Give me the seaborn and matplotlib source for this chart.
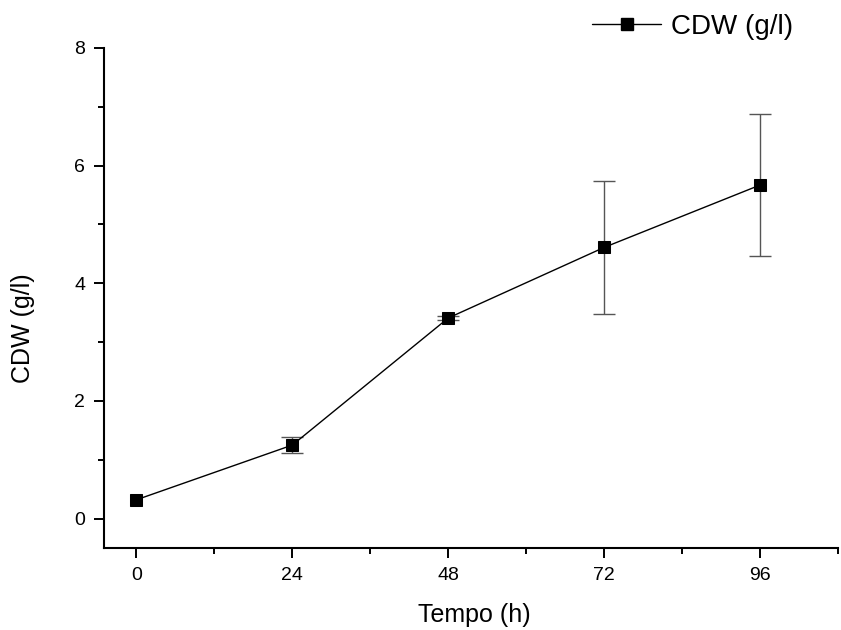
import matplotlib
matplotlib.use("Agg")
import matplotlib.pyplot as plt
import seaborn as sns
import pandas as pd
from matplotlib.ticker import MultipleLocator
from matplotlib.lines import Line2D

time_h = [0, 24, 48, 72, 96]
cdw = [0.32, 1.25, 3.41, 4.61, 5.67]
cdw_err = [0.0, 0.13, 0.03, 1.13, 1.21]
x_ticks = [0, 24, 48, 72, 96]
y_ticks = [0, 2, 4, 6, 8]

sns.set_style("ticks")
plt.rcParams['font.family'] = ['Liberation Sans', 'DejaVu Sans']
plt.rcParams['text.color'] = 'black'
plt.rcParams['axes.labelcolor'] = 'black'

df = pd.DataFrame({"Tempo (h)": time_h, "CDW (g/l)": cdw, "err": cdw_err})
err_df = df[df["err"] > 0]

fig = plt.figure(figsize=(8.41, 6.3), dpi=100)
ax = fig.add_axes([104/841, 1 - 548/630, (838-104)/841, (548-48)/630])

ax.errorbar(err_df["Tempo (h)"], err_df["CDW (g/l)"], yerr=err_df["err"], fmt='none',
            ecolor='#555555', elinewidth=1.0, capsize=8, capthick=1.0, zorder=2)
sns.lineplot(data=df, x="Tempo (h)", y="CDW (g/l)", ax=ax, color='black',
             linewidth=1.0, marker='s', markersize=8.5, markeredgecolor='black',
             markerfacecolor='black', zorder=3)

ax.set_xlim(-5, 108)
ax.set_ylim(-0.5, 8)
ax.set_xticks(x_ticks)
ax.set_yticks(y_ticks)
ax.xaxis.set_minor_locator(MultipleLocator(12))
ax.yaxis.set_minor_locator(MultipleLocator(1))
ax.tick_params(which='major', direction='out', length=7.5, width=1.4, labelsize=14,
               colors='black', pad=6)
ax.tick_params(which='minor', direction='out', length=4.5, width=1.4, colors='black')
for s in ['top', 'right']:
    ax.spines[s].set_visible(False)
for s in ['left', 'bottom']:
    ax.spines[s].set_linewidth(1.5)
    ax.spines[s].set_color('black')

ax.set_xlabel("Tempo (h)", fontsize=18, color='black')
ax.set_ylabel("CDW (g/l)", fontsize=18, color='black')
ax.xaxis.set_label_coords(0.504, -0.11)
ax.yaxis.set_label_coords(-0.094, 0.44)

handle = Line2D([], [], color='black', linewidth=1.0, marker='s', markersize=8.5)
leg = fig.legend([handle], ["CDW (g/l)"], loc='center left', bbox_to_anchor=(592/841, 1 - 27/630),
                 frameon=False, fontsize=20, handlelength=2.5, handletextpad=0.36,
                 borderpad=0, borderaxespad=0)
for t in leg.get_texts():
    t.set_color('black')

fig.savefig("out.png", dpi=100)
